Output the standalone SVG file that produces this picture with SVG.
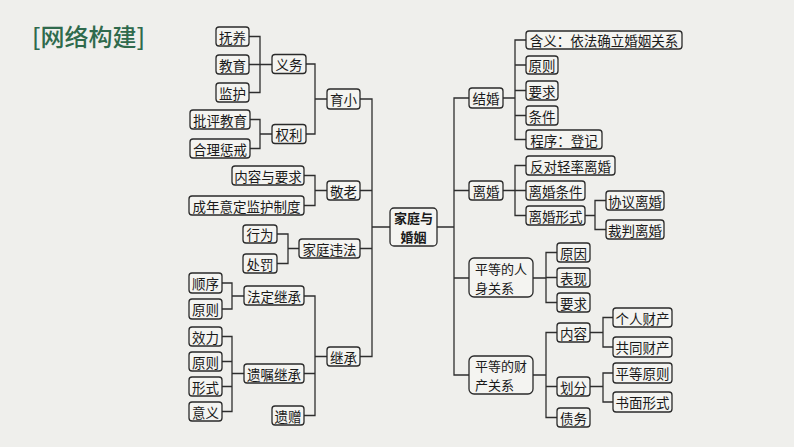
<svg xmlns="http://www.w3.org/2000/svg" width="794" height="447" viewBox="0 0 794 447">
<style>
.bg{fill:#efefec}
.n rect{fill:#f4f4f1;stroke:#2a2a2a;stroke-width:1.3}
.n text{font-family:"Noto Sans CJK SC","Noto Sans",sans-serif;font-size:13.5px;fill:#1a1a1a;text-anchor:middle;dominant-baseline:central}
.n text.l{text-anchor:start}
.n text.t{font-size:13px}
.title{font-family:"Noto Sans CJK SC","Noto Sans",sans-serif;font-size:24px;font-weight:500;fill:#2f6a4c}
#connectors path{fill:none;stroke:#2e2e2e;stroke-width:1.3}
</style>
<rect class="bg" x="0" y="0" width="794" height="447"/>
<text class="title" x="32" y="46">[网络构建]</text>
<g id="connectors">
<path d="M249 36.5H260V92.5H249M249 64.5H272"/>
<path d="M250 119.5H260V148.5H250M260 134H272"/>
<path d="M306 64H315V134H306M315 99H327"/>
<path d="M304 175.5H315V205.5H304M315 190.5H327"/>
<path d="M277 234H288V263.5H277M288 248.5H299"/>
<path d="M222 283H232V309H222M232 296H244"/>
<path d="M222 336.5H232V411.5H222M222 361.5H232M222 386.5H232M232 373.5H244"/>
<path d="M304 296H315V415.5H304M304 373.5H315M315 356.5H327"/>
<path d="M360 99H372V356.5H360M360 190.5H372M360 248.5H372M372 227H390"/>
<path d="M437 227H454M469 98H454V375H469M454 190.5H469M454 278H469"/>
<path d="M503 98H515M526 40H515V139.5H526M515 65H526M515 90.5H526M515 115.5H526"/>
<path d="M503 190.5H526M526 165.5H515V215.5H526"/>
<path d="M585 215.5H595M606 200.5H595V229.5H606"/>
<path d="M533 278H546M557 252.5H546V302.5H557M546 277.5H557"/>
<path d="M533 375H546M557 332.5H546V417.5H557M546 386.5H557"/>
<path d="M590 332.5H603M613 317.5H603V347H613"/>
<path d="M590 386.5H603M613 373H603V402H613"/>
</g>
<g id="n-fuyang" class="n"><rect x="216" y="27" width="33" height="19" rx="3"/><text x="232.5" y="36.5">抚养</text></g>
<g id="n-jiaoyu" class="n"><rect x="216" y="55" width="33" height="19" rx="3"/><text x="232.5" y="64.5">教育</text></g>
<g id="n-jianhu" class="n"><rect x="216" y="83" width="33" height="19" rx="3"/><text x="232.5" y="92.5">监护</text></g>
<g id="n-yiwu" class="n"><rect x="272" y="54.5" width="34" height="19" rx="3"/><text x="289" y="64">义务</text></g>
<g id="n-pipingjiaoyu" class="n"><rect x="190" y="110" width="60" height="19" rx="3"/><text x="220" y="119.5">批评教育</text></g>
<g id="n-helichengjie" class="n"><rect x="190" y="139" width="60" height="19" rx="3"/><text x="220" y="148.5">合理惩戒</text></g>
<g id="n-quanli" class="n"><rect x="272" y="124.5" width="34" height="19" rx="3"/><text x="289" y="134">权利</text></g>
<g id="n-yuxiao" class="n"><rect x="327" y="89" width="33" height="20" rx="3"/><text x="343.5" y="99">育小</text></g>
<g id="n-neirongyaoqiu" class="n"><rect x="232" y="166" width="72" height="19" rx="3"/><text x="268" y="175.5">内容与要求</text></g>
<g id="n-chengnian" class="n"><rect x="189" y="196" width="115" height="19" rx="3"/><text x="246.5" y="205.5">成年意定监护制度</text></g>
<g id="n-jinglao" class="n"><rect x="327" y="181" width="33" height="19" rx="3"/><text x="343.5" y="190.5">敬老</text></g>
<g id="n-xingwei" class="n"><rect x="243" y="225" width="34" height="18" rx="3"/><text x="260" y="234">行为</text></g>
<g id="n-chufa" class="n"><rect x="243" y="254" width="34" height="19" rx="3"/><text x="260" y="263.5">处罚</text></g>
<g id="n-jiatingweifa" class="n"><rect x="299" y="239" width="61" height="19" rx="3"/><text x="329.5" y="248.5">家庭违法</text></g>
<g id="n-shunxu" class="n"><rect x="189" y="273" width="33" height="20" rx="3"/><text x="205.5" y="283">顺序</text></g>
<g id="n-yuanze1" class="n"><rect x="189" y="299" width="33" height="20" rx="3"/><text x="205.5" y="309">原则</text></g>
<g id="n-fadingjicheng" class="n"><rect x="244" y="286" width="60" height="19" rx="3"/><text x="274" y="295.5">法定继承</text></g>
<g id="n-xiaoli" class="n"><rect x="189" y="327" width="33" height="19" rx="3"/><text x="205.5" y="336.5">效力</text></g>
<g id="n-yuanze2" class="n"><rect x="189" y="352" width="33" height="19" rx="3"/><text x="205.5" y="361.5">原则</text></g>
<g id="n-xingshi" class="n"><rect x="189" y="377" width="33" height="19" rx="3"/><text x="205.5" y="386.5">形式</text></g>
<g id="n-yiyi" class="n"><rect x="189" y="402" width="33" height="19" rx="3"/><text x="205.5" y="411.5">意义</text></g>
<g id="n-yizhujicheng" class="n"><rect x="244" y="364" width="60" height="19" rx="3"/><text x="274" y="373.5">遗嘱继承</text></g>
<g id="n-yizeng" class="n"><rect x="272" y="406" width="32" height="19" rx="3"/><text x="288" y="415.5">遗赠</text></g>
<g id="n-jicheng" class="n"><rect x="327" y="347" width="33" height="19" rx="3"/><text x="343.5" y="356.5">继承</text></g>
<g id="n-center" class="n"><rect x="390" y="208" width="47" height="38" rx="4"/><text class="t" x="413.5" y="217.5" font-weight="bold">家庭与</text><text class="t" x="413.5" y="236.5" font-weight="bold">婚姻</text></g>
<g id="n-jiehun" class="n"><rect x="469" y="88" width="34" height="20" rx="3"/><text x="486" y="98">结婚</text></g>
<g id="n-hanyi" class="n"><rect x="526" y="31" width="156" height="18" rx="3"/><text x="604" y="40">含义：依法确立婚姻关系</text></g>
<g id="n-yuanze3" class="n"><rect x="526" y="56" width="32" height="18" rx="3"/><text x="542" y="65">原则</text></g>
<g id="n-yaoqiu1" class="n"><rect x="526" y="81" width="32" height="19" rx="3"/><text x="542" y="90.5">要求</text></g>
<g id="n-tiaojian" class="n"><rect x="526" y="106" width="32" height="19" rx="3"/><text x="542" y="115.5">条件</text></g>
<g id="n-chengxu" class="n"><rect x="526" y="130" width="76" height="19" rx="3"/><text x="564" y="139.5">程序：登记</text></g>
<g id="n-lihun" class="n"><rect x="469" y="181" width="34" height="19" rx="3"/><text x="486" y="190.5">离婚</text></g>
<g id="n-fandui" class="n"><rect x="526" y="156" width="89" height="19" rx="3"/><text x="570.5" y="165.5">反对轻率离婚</text></g>
<g id="n-lihuntiaojian" class="n"><rect x="526" y="181" width="59" height="19" rx="3"/><text x="555.5" y="190.5">离婚条件</text></g>
<g id="n-lihunxingshi" class="n"><rect x="526" y="206" width="59" height="19" rx="3"/><text x="555.5" y="215.5">离婚形式</text></g>
<g id="n-xieyi" class="n"><rect x="606" y="191" width="58" height="19" rx="3"/><text x="635" y="200.5">协议离婚</text></g>
<g id="n-caipan" class="n"><rect x="606" y="220" width="58" height="19" rx="3"/><text x="635" y="229.5">裁判离婚</text></g>
<g id="n-renshen" class="n"><rect x="469" y="258" width="64" height="39" rx="5"/><text class="l t" x="475" y="268">平等的人</text><text class="l t" x="475" y="287">身关系</text></g>
<g id="n-yuanyin" class="n"><rect x="557" y="243" width="33" height="19" rx="3"/><text x="573.5" y="252.5">原因</text></g>
<g id="n-biaoxian" class="n"><rect x="557" y="268" width="33" height="19" rx="3"/><text x="573.5" y="277.5">表现</text></g>
<g id="n-yaoqiu2" class="n"><rect x="557" y="293" width="33" height="19" rx="3"/><text x="573.5" y="302.5">要求</text></g>
<g id="n-caichan" class="n"><rect x="469" y="356" width="64" height="38" rx="5"/><text class="l t" x="475" y="365.5">平等的财</text><text class="l t" x="475" y="384.5">产关系</text></g>
<g id="n-neirong" class="n"><rect x="557" y="323" width="33" height="19" rx="3"/><text x="573.5" y="332.5">内容</text></g>
<g id="n-huafen" class="n"><rect x="557" y="377" width="33" height="19" rx="3"/><text x="573.5" y="386.5">划分</text></g>
<g id="n-zhaiwu" class="n"><rect x="557" y="408" width="33" height="19" rx="3"/><text x="573.5" y="417.5">债务</text></g>
<g id="n-geren" class="n"><rect x="613" y="308" width="59" height="19" rx="3"/><text x="642.5" y="317.5">个人财产</text></g>
<g id="n-gongtong" class="n"><rect x="613" y="337" width="59" height="20" rx="3"/><text x="642.5" y="347">共同财产</text></g>
<g id="n-pingdeng" class="n"><rect x="613" y="363" width="59" height="20" rx="3"/><text x="642.5" y="373">平等原则</text></g>
<g id="n-shumian" class="n"><rect x="613" y="392" width="59" height="20" rx="3"/><text x="642.5" y="402">书面形式</text></g>
</svg>
